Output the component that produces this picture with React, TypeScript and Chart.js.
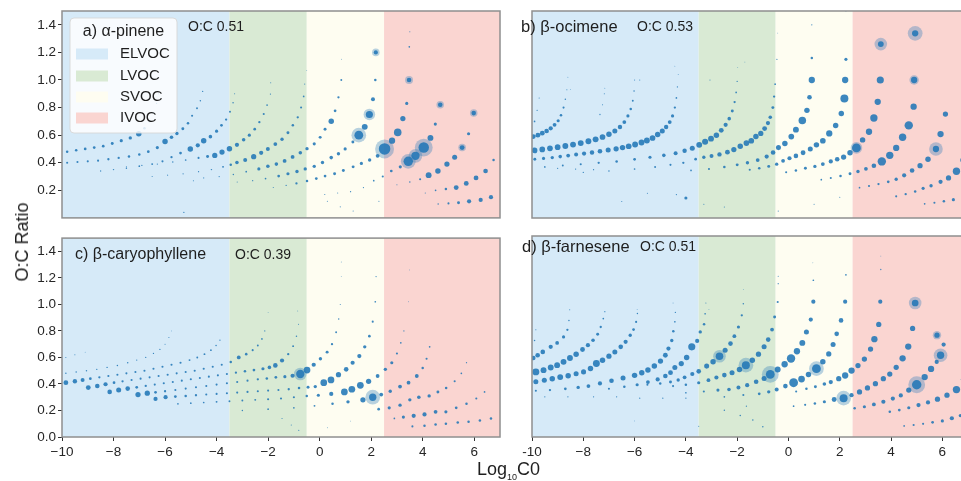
import React, { useEffect, useRef } from "react";
import { Chart, registerables } from "chart.js";
Chart.register(...registerables);

type Pt = [number, number, number]; // [log10 C0, O:C, relative abundance]

const FONT = "'Liberation Sans', Arial, Helvetica, sans-serif";

const volatilityClasses = ["ELVOC", "LVOC", "SVOC", "IVOC"];
const classEdges = [-10, -3.5, -0.5, 2.5, 7];
const classColors = ["rgb(214,234,248)", "rgb(217,234,212)", "rgb(254,253,241)", "rgb(250,213,209)"];
const xTickValues = [-10, -8, -6, -4, -2, 0, 2, 4, 6];
const yTickValues = [0, 0.2, 0.4, 0.6, 0.8, 1.0, 1.2, 1.4];
const panelNames = ["a) α-pinene", "b) β-ocimene", "c) β-caryophyllene", "d) β-farnesene"];
const panelOC = ["O:C 0.51", "O:C 0.53", "O:C 0.39", "O:C 0.51"];

const pineneDots: Pt[] = [
  [-9.8,0.48,1.2],[-9.45,0.49,1.2],[-9.1,0.5,1.3],[-8.75,0.51,1.3],[-8.4,0.52,1.3],[-8.05,0.54,1.4],[-7.7,0.56,1.5],[-7.35,0.58,1.6],[-7.02,0.61,2.6],[-6.8,0.65,1.2],[-6.6,0.7,1],[-6.45,0.76,0.8],[-6.33,0.83,0.6],[-6.25,0.9,0.5],
  [-9.8,0.4,1],[-9.4,0.405,1],[-9.0,0.41,1],[-8.6,0.415,1],[-8.2,0.425,1.1],[-7.8,0.435,1.1],[-7.4,0.445,1.2],[-7.0,0.46,1.2],[-6.65,0.48,1.3],[-6.3,0.51,1.5],[-6.0,0.554,2.6],[-5.75,0.585,1.7],[-5.54,0.612,1.6],[-5.31,0.647,1.4],[-5.11,0.687,1.2],[-4.95,0.741,1],[-4.76,0.795,0.9],[-4.63,0.85,0.7],[-4.54,0.917,0.6],
  [-8.5,0.34,0.6],[-8.0,0.35,0.7],[-7.5,0.36,0.7],[-7.0,0.375,0.8],[-6.5,0.39,0.9],[-6.1,0.41,1],[-5.75,0.44,1.1],[-5.4,0.47,1.3],[-5.02,0.5,2.6],[-4.73,0.526,2],[-4.5,0.559,2.6],[-4.24,0.589,1.7],[-4.0,0.629,1.5],[-3.81,0.671,1.3],[-3.63,0.713,1.1],[-3.48,0.77,0.9],[-3.36,0.835,0.7],[-3.3,0.9,0.5],
  [-7.5,0.37,0.5],[-6.9,0.38,0.6],[-6.3,0.39,0.6],[-5.7,0.405,0.7],[-5.2,0.42,0.8],[-4.7,0.435,1],[-4.35,0.445,1.4],[-4.07,0.453,2.5],[-3.79,0.477,2.5],[-3.5,0.502,2.6],[-3.21,0.53,2],[-2.95,0.566,1.7],[-2.73,0.6,1.5],[-2.52,0.643,1.3],[-2.34,0.694,1.1],[-2.17,0.753,1],[-2.04,0.818,0.8],[-1.91,0.898,0.6],
  [-6.5,0.3,0.5],[-5.9,0.31,0.5],[-5.3,0.32,0.6],[-4.7,0.335,0.6],[-4.2,0.35,0.7],[-3.75,0.37,0.9],[-3.45,0.385,1.2],[-3.21,0.402,1.7],[-2.89,0.42,1.9],[-2.56,0.444,2.5],[-2.27,0.472,2],[-2.01,0.5,1.9],[-1.72,0.535,1.8],[-1.46,0.57,1.6],[-1.23,0.617,1.4],[-1.04,0.671,1.2],[-0.85,0.729,1.1],[-0.72,0.8,1],[-0.62,0.881,0.8],[-0.58,0.97,0.5],
  [-4.5,0.29,0.5],[-3.9,0.3,0.6],[-3.35,0.315,0.7],[-2.85,0.335,0.8],[-2.36,0.355,1.5],[-2.01,0.374,1.7],[-1.68,0.39,1.7],[-1.36,0.413,1.8],[-1.05,0.442,1.8],[-0.75,0.472,1.7],[-0.49,0.502,1.6],[-0.21,0.537,1.5],[0.02,0.584,1.4],[0.21,0.643,1.4],[0.45,0.7,2.6],[0.6,0.776,1.3],[0.73,0.874,1.1],[0.84,1.0,0.9],
  [-3.2,0.26,0.5],[-2.6,0.27,0.6],[-2.1,0.285,0.8],[-1.59,0.303,1.3],[-1.23,0.32,1.5],[-0.88,0.336,1.6],[-0.56,0.355,1.6],[-0.21,0.374,1.6],[0.11,0.402,1.6],[0.45,0.437,1.7],[0.73,0.465,1.6],[0.99,0.5,1.5],[1.29,0.55,1.4],[1.52,0.6,4.2],[1.75,0.66,2.8],[1.93,0.75,3.4],[2.07,0.86,1.9],[2.16,1.0,1.2],[2.18,1.2,2],
  [-1.8,0.22,0.5],[-1.3,0.235,0.6],[-0.9,0.25,1.1],[-0.49,0.268,1.2],[-0.13,0.285,1.3],[0.21,0.303,1.3],[0.58,0.32,1.4],[0.92,0.343,1.4],[1.3,0.37,1.4],[1.62,0.395,1.5],[1.94,0.42,1.6],[2.25,0.45,1.8],[2.52,0.5,5.5],[2.81,0.56,3],[3.03,0.62,3.6],[3.23,0.72,2.5],[3.38,0.83,1.5],[3.47,1.0,2.2],[3.48,1.24,0.8],
  [0.2,0.17,0.5],[0.7,0.18,0.5],[1.2,0.19,0.6],[1.7,0.22,0.6],[2.1,0.27,0.8],[2.45,0.3,1],[2.78,0.34,1.3],[3.13,0.37,1.5],[3.44,0.41,4.5],[3.72,0.45,4],[4.04,0.51,5],[4.3,0.58,2.8],[4.49,0.68,1.5],[4.68,0.82,2.2],
  [3.0,0.24,0.5],[3.5,0.26,0.7],[3.9,0.28,1],[4.23,0.31,2.8],[4.59,0.34,2.6],[4.94,0.39,2.5],[5.24,0.44,2.4],[5.53,0.51,2.3],[5.78,0.61,1.5],[5.98,0.76,2.2],
  [4.1,0.18,0.5],[4.5,0.2,0.8],[4.9,0.21,1.2],[5.3,0.22,2.3],[5.69,0.25,2.3],[6.07,0.29,2.3],[6.44,0.34,2.2],[6.75,0.42,1.2],
  [4.6,0.1,0.7],[5.0,0.105,1],[5.39,0.11,1.4],[5.8,0.12,2],[6.25,0.13,2],[6.65,0.15,2],
  [-5.27,0.04,0.6],[-4.9,0.27,0.5],[0.3,0.12,0.5],[0.8,0.08,0.5],[1.3,0.05,0.5],[2.3,0.12,0.5],[3.5,1.35,0.5],[-1.9,0.98,0.5],[-0.5,1.07,0.4],[0.85,1.15,0.4],
];
const pineneHalos: Pt[] = [
  [1.52,0.6,7],[1.93,0.75,5.5],[2.18,1.2,3.6],[2.52,0.5,9],[3.47,1.0,3.8],[3.44,0.41,7],[3.72,0.45,6.5],[4.04,0.51,8.5],[4.68,0.82,3.6],[5.53,0.51,3.6],[5.98,0.76,3.6],
];

const ocimeneDots: Pt[] = [
  [-9.9,0.7,0.8],[-9.8,0.78,0.6],[-9.72,0.87,0.5],
  [-9.95,0.59,2.3],[-9.77,0.6,2.3],[-9.6,0.615,2.3],[-9.43,0.63,2.2],[-9.27,0.65,2],[-9.12,0.675,1.8],[-8.98,0.705,1.5],[-8.87,0.745,1.2],[-8.77,0.8,1],[-8.7,0.86,0.7],[-8.64,0.93,0.5],[-8.6,1.02,0.4],
  [-9.9,0.49,2.7],[-9.6,0.497,2.7],[-9.3,0.505,2.7],[-9.0,0.513,2.7],[-8.7,0.522,2.8],[-8.4,0.532,2.8],[-8.1,0.543,2.8],[-7.8,0.556,2.8],[-7.52,0.57,2.8],[-7.25,0.587,2.7],[-7.0,0.607,2.6],[-6.77,0.63,2.4],[-6.57,0.66,2.1],[-6.4,0.695,1.8],[-6.26,0.74,1.5],[-6.15,0.79,1.2],[-6.07,0.85,0.9],[-6.02,0.92,0.7],[-6.0,1.0,0.5],
  [-7.35,0.75,0.6],[-7.25,0.82,0.5],[-7.18,0.9,0.5],
  [-9.89,0.426,1.4],[-9.55,0.432,1.5],[-9.21,0.438,1.6],[-8.9,0.445,1.7],[-8.59,0.452,1.8],[-8.28,0.46,1.9],[-7.97,0.467,2],[-7.66,0.475,2.1],[-7.35,0.484,2.2],[-7.03,0.492,2.4],[-6.72,0.501,2.5],[-6.47,0.51,2.6],[-6.23,0.52,2.7],[-5.98,0.533,2.8],[-5.73,0.547,2.8],[-5.52,0.562,2.8],[-5.3,0.58,2.7],[-5.1,0.605,2.6],[-4.92,0.63,2.4],[-4.77,0.66,2.1],[-4.63,0.695,1.8],[-4.52,0.74,1.5],[-4.43,0.8,1.1],[-4.37,0.87,0.8],[-4.33,0.95,0.6],[-4.3,1.04,0.4],
  [-9.5,0.37,0.8],[-8.8,0.38,0.9],[-8.1,0.39,1],[-7.4,0.4,1.1],[-6.7,0.41,1.2],[-6.0,0.425,1.3],[-5.4,0.44,1.5],[-4.86,0.454,1.7],[-4.4,0.47,1.9],[-4.05,0.487,2.1],[-3.75,0.505,2.4],[-3.48,0.53,2.8],[-3.25,0.553,2.9],[-3.02,0.575,2.8],[-2.81,0.6,2.6],[-2.62,0.635,2.3],[-2.45,0.675,2],[-2.31,0.72,1.7],[-2.19,0.775,1.4],[-2.1,0.84,1.1],[-2.04,0.91,0.8],[-2.0,0.99,0.6],[-1.98,1.09,0.4],
  [-8.0,0.33,0.6],[-7.0,0.34,0.7],[-6.0,0.355,0.8],[-5.2,0.37,0.9],[-4.6,0.385,1],[-4.1,0.4,1.1],[-3.62,0.426,1.3],[-3.3,0.44,1.6],[-3.0,0.449,1.9],[-2.69,0.461,2.1],[-2.38,0.477,2.3],[-2.13,0.496,2.5],[-1.88,0.52,2.6],[-1.64,0.543,2.7],[-1.45,0.56,2.7],[-1.27,0.59,2.6],[-1.08,0.613,2.5],[-0.93,0.648,2.3],[-0.8,0.688,2],[-0.71,0.73,1.7],[-0.61,0.8,1.4],[-0.56,0.88,1.1],[-0.52,0.97,0.8],[-0.45,1.15,0.6],[-0.42,1.34,0.4],
  [-3.8,0.345,0.8],[-3.1,0.355,1],[-2.5,0.37,1.2],[-2.0,0.385,1.4],[-1.6,0.4,1.6],[-1.2,0.42,1.8],[-0.85,0.445,2],[-0.6,0.475,2.2],[-0.39,0.51,2.4],[-0.14,0.54,2.6],[0.11,0.59,2.7],[0.29,0.64,2.8],[0.54,0.707,3.6],[0.72,0.78,2.6],[0.82,0.875,2.2],[0.91,1.0,3],[0.91,1.16,1.2],[0.91,1.4,0.6],
  [-1.51,0.35,1],[-1.14,0.36,1.2],[-0.77,0.374,1.4],[-0.46,0.39,1.6],[-0.21,0.414,1.8],[0.04,0.433,2],[0.29,0.45,2.2],[0.57,0.473,2.3],[0.85,0.5,2.4],[1.09,0.53,2.6],[1.34,0.56,2.7],[1.59,0.613,3],[1.84,0.67,2.6],[2.06,0.758,2.6],[2.18,0.866,3.8],[2.21,1.0,3],[2.24,1.15,1.5],[2.24,1.5,0.5],
  [-0.09,0.332,1],[0.29,0.344,1.2],[0.66,0.36,1.4],[1.03,0.374,1.6],[1.34,0.391,1.8],[1.65,0.41,2],[1.9,0.426,2.2],[2.15,0.442,2.5],[2.4,0.473,2.6],[2.65,0.508,4.2],[2.89,0.566,2.6],[3.14,0.625,3],[3.33,0.725,3.5],[3.48,0.842,3],[3.58,1.0,3.4],[3.6,1.26,2.8],
  [1.28,0.278,0.8],[1.65,0.29,1],[2.03,0.304,1.2],[2.4,0.32,1.4],[2.71,0.337,1.6],[3.02,0.356,1.8],[3.33,0.379,2.2],[3.64,0.41,4],[3.95,0.454,3.5],[4.2,0.508,3],[4.45,0.585,3.5],[4.69,0.671,4],[4.88,0.807,3],[4.9,1.0,3],[4.94,1.338,3],
  [2.77,0.22,0.8],[3.14,0.232,1],[3.51,0.246,1.1],[3.89,0.262,1.3],[4.2,0.281,1.6],[4.51,0.309,2],[4.82,0.344,2.2],[5.13,0.379,2.5],[5.44,0.426,2.6],[5.75,0.5,3],[5.93,0.608,3],[6.12,0.753,2.5],
  [4.2,0.157,1],[4.57,0.173,1.1],[4.94,0.192,1.2],[5.25,0.215,1.5],[5.56,0.234,1.6],[5.93,0.262,2],[6.24,0.29,2.5],[6.55,0.339,3.5],[6.8,0.42,2.5],
  [5.31,0.103,0.8],[5.69,0.11,1],[6.06,0.122,1.2],[6.43,0.133,1.5],[6.8,0.15,1.5],
  [-4.0,0.145,1.5],[-4.37,0.17,0.6],[-6.5,0.12,0.5],[-5.5,0.18,0.5],[-3.3,0.1,0.5],[-2.5,0.08,0.5],[-0.4,0.05,0.5],[1.0,0.1,0.5],[2.0,0.15,0.5],[-9.0,0.36,0.6],[-8.3,0.355,0.6],[-7.6,0.35,0.6],[-5.8,1.0,0.5],[-4.43,1.1,0.4],[-3.06,1.0,0.5],[-1.7,1.13,0.4],[-8.5,0.93,0.4],[-7.16,0.94,0.4],
];
const ocimeneHalos: Pt[] = [[3.6,1.26,6],[4.94,1.338,7],[5.75,0.5,6.5],[2.65,0.508,5.5],[4.9,1.0,4.5]];

const caryophylleneDots: Pt[] = [
  [-9.85,0.6,0.5],[-9.5,0.62,0.5],[-9.1,0.64,0.4],
  [-9.85,0.48,0.7],[-9.45,0.49,0.7],[-9.05,0.5,0.7],[-8.65,0.51,0.7],[-8.25,0.525,0.7],[-7.85,0.54,0.7],[-7.45,0.56,0.7],[-7.1,0.58,0.6],[-6.75,0.6,0.6],[-6.45,0.63,0.6],[-6.2,0.66,0.6],[-6.0,0.7,0.5],[-5.85,0.75,0.5],[-5.75,0.8,0.4],
  [-9.85,0.41,2.3],[-9.5,0.42,2.1],[-9.2,0.43,1.9],[-8.9,0.44,1.3],[-8.55,0.45,1.1],[-8.2,0.46,1],[-7.85,0.47,1],[-7.5,0.48,1],[-7.15,0.49,1],[-6.8,0.5,1],[-6.45,0.515,1],[-6.1,0.53,1],[-5.75,0.545,1],[-5.4,0.56,1],[-5.05,0.58,0.9],[-4.75,0.6,0.9],[-4.47,0.625,0.9],[-4.22,0.655,0.8],[-4.02,0.69,0.7],[-3.87,0.73,0.6],
  [-8.98,0.373,2.3],[-8.63,0.385,2.2],[-8.31,0.398,2],[-7.98,0.41,1.3],[-7.65,0.42,1.1],[-7.3,0.43,1],[-6.95,0.44,1],[-6.6,0.45,1],[-6.25,0.46,1],[-5.9,0.47,1],[-5.55,0.48,1],[-5.2,0.49,1],[-4.85,0.5,1],[-4.5,0.515,1],[-4.15,0.53,1],[-3.8,0.545,1],[-3.45,0.565,1.2],[-3.14,0.6,1.8],[-2.85,0.625,1.2],[-2.6,0.655,1],[-2.4,0.69,0.9],[-2.24,0.74,0.8],[-2.13,0.8,0.6],
  [-8.15,0.34,2.2],[-7.8,0.355,2.4],[-7.45,0.365,2.2],[-7.1,0.375,1.3],[-6.75,0.385,1.1],[-6.4,0.395,1],[-6.05,0.405,1],[-5.7,0.415,1],[-5.35,0.425,1],[-5.0,0.435,1],[-4.65,0.445,1],[-4.3,0.455,1],[-3.95,0.465,1],[-3.6,0.475,1],[-3.25,0.485,1.1],[-2.9,0.495,1.2],[-2.55,0.505,1.3],[-2.2,0.515,1.5],[-1.95,0.525,1.7],[-1.72,0.54,2.2],[-1.46,0.577,2],[-1.22,0.625,1.1],[-1.03,0.685,0.9],[-0.9,0.76,0.7],[-0.82,0.85,0.5],
  [-7.05,0.32,2.5],[-6.69,0.33,2.5],[-6.37,0.337,1.3],[-6.0,0.345,1.1],[-5.6,0.355,1],[-5.2,0.365,1],[-4.8,0.375,1],[-4.4,0.385,1],[-4.0,0.395,1],[-3.6,0.405,1],[-3.2,0.415,1],[-2.8,0.425,1],[-2.4,0.435,1.1],[-2.05,0.442,1.2],[-1.7,0.45,1.3],[-1.35,0.455,1.5],[-1.05,0.462,2],[-0.75,0.475,4],[-0.49,0.505,3.2],[-0.23,0.545,2],[0.03,0.59,1.6],[0.29,0.64,1.4],[0.48,0.7,1.1],[0.64,0.79,0.9],[0.74,0.89,0.7],[0.8,1.0,0.5],[0.84,1.21,0.4],
  [-6.37,0.287,2],[-5.98,0.3,2],[-5.6,0.305,1.3],[-5.2,0.31,1.2],[-4.8,0.315,1.1],[-4.4,0.32,1],[-4.0,0.325,1],[-3.6,0.33,1],[-3.2,0.335,1],[-2.8,0.34,1],[-2.4,0.345,1],[-2.0,0.35,1],[-1.6,0.355,1],[-1.2,0.36,1.1],[-0.8,0.37,1.2],[-0.45,0.375,1.4],[-0.17,0.38,1.6],[0.16,0.41,3.2],[0.44,0.43,3.2],[0.73,0.47,2.5],[1.03,0.51,2.2],[1.28,0.56,2],[1.54,0.61,2],[1.75,0.68,1.6],[1.93,0.76,1.3],[2.06,0.87,1],[2.16,1.02,0.8],[2.19,1.21,0.6],
  [-5.5,0.25,0.8],[-5.0,0.255,0.8],[-4.5,0.26,0.8],[-4.0,0.265,0.9],[-3.5,0.27,0.9],[-3.0,0.275,0.9],[-2.5,0.28,0.9],[-2.0,0.285,1],[-1.5,0.29,1],[-1.0,0.3,1],[-0.5,0.31,1.2],[-0.05,0.315,1.5],[0.45,0.325,2],[0.96,0.34,3.2],[1.25,0.36,3.2],[1.58,0.39,3.2],[1.9,0.42,2.5],[2.25,0.46,1.8],[2.55,0.51,1.6],[2.8,0.56,1.5],[3.0,0.63,1],[3.15,0.71,0.8],[3.27,0.8,0.6],
  [-3.0,0.2,0.7],[-2.0,0.21,0.8],[-1.0,0.22,0.8],[-0.2,0.235,0.9],[0.5,0.25,1.2],[1.1,0.265,1.6],[1.68,0.28,2.5],[2.06,0.3,3.5],[2.39,0.32,1.8],[2.74,0.345,1.6],[3.12,0.38,1.8],[3.45,0.41,1.8],[3.77,0.46,1.8],[4.0,0.52,1.2],[4.15,0.59,1],[4.27,0.68,0.8],
  [2.29,0.21,1.3],[2.7,0.22,1.5],[3.12,0.24,1.6],[3.5,0.28,1.6],[3.85,0.3,1.7],[4.25,0.31,1.6],[4.59,0.34,1.4],[4.91,0.37,1.2],[5.24,0.42,1],[5.5,0.48,0.8],[5.7,0.56,0.6],
  [2.9,0.14,0.8],[3.25,0.15,1.5],[3.65,0.16,2],[4.07,0.17,2],[4.5,0.19,1.8],[4.9,0.19,1.5],[5.3,0.22,1.3],[5.7,0.25,1.2],[6.08,0.29,1],[6.4,0.34,0.8],
  [3.6,0.08,1],[4.07,0.085,1.2],[4.5,0.095,1.2],[4.9,0.1,1.2],[5.36,0.11,1.2],[5.78,0.115,1.2],[6.22,0.125,1.2],[6.65,0.14,1.2],
  [-1.46,0.14,0.5],[-1.1,0.09,0.5],[-0.81,0.05,0.5],[0.3,0.07,0.4],[1.2,0.12,0.4],[3.49,1.26,0.4],[3.45,1.02,0.4],[0.84,1.32,0.4],[-2.0,0.94,0.4],[-0.85,0.95,0.4],
];
const caryophylleneHalos: Pt[] = [[-0.75,0.475,6],[2.06,0.3,7]];

const farneseneDots: Pt[] = [
  [-9.9,0.72,0.7],[-9.85,0.8,0.5],
  [-9.95,0.59,2.2],[-9.78,0.61,2.2],[-9.58,0.635,2.2],[-9.27,0.673,2],[-9.02,0.702,1.8],[-8.77,0.747,1.5],[-8.62,0.8,1.1],[-8.56,0.87,0.7],[-8.53,0.95,0.5],
  [-9.85,0.486,3.3],[-9.55,0.499,2.8],[-9.27,0.519,2.8],[-9.02,0.536,2.8],[-8.77,0.561,2.8],[-8.52,0.59,2.8],[-8.28,0.618,2.6],[-8.03,0.653,2.3],[-7.82,0.685,2],[-7.62,0.722,1.7],[-7.44,0.767,1.4],[-7.32,0.821,1.1],[-7.22,0.884,0.8],[-7.16,0.935,0.6],
  [-9.85,0.412,2.4],[-9.52,0.424,2.4],[-9.21,0.434,2.6],[-8.9,0.447,2.8],[-8.59,0.457,2.6],[-8.28,0.472,2.4],[-7.99,0.486,2.4],[-7.72,0.511,2.6],[-7.49,0.548,3.3],[-7.25,0.573,2.6],[-7.0,0.603,2.5],[-6.77,0.635,2.4],[-6.54,0.673,2.2],[-6.35,0.71,2],[-6.17,0.759,1.6],[-6.04,0.802,1.3],[-5.94,0.859,1],[-5.89,0.921,0.7],
  [-9.85,0.345,1],[-9.3,0.35,1.1],[-8.7,0.36,1.3],[-8.2,0.37,1.6],[-7.8,0.38,1.8],[-7.35,0.4,2],[-6.9,0.42,2.2],[-6.45,0.44,2.4],[-6.0,0.46,2.6],[-5.72,0.48,2.6],[-5.48,0.5,2.6],[-5.23,0.53,2.6],[-4.99,0.567,2.5],[-4.8,0.61,2.3],[-4.68,0.66,2],[-4.55,0.72,1.6],[-4.49,0.79,1.2],[-4.43,0.86,0.8],[-4.41,0.93,0.6],
  [-7.0,0.36,1],[-6.4,0.375,1.2],[-5.9,0.39,1.5],[-5.48,0.41,1.8],[-5.1,0.43,2],[-4.8,0.455,2.2],[-4.6,0.48,2.3],[-4.43,0.519,2.4],[-4.18,0.548,2.5],[-3.97,0.593,2.6],[-3.77,0.673,3.4],[-3.56,0.717,2],[-3.44,0.784,1.6],[-3.29,0.841,1.2],[-3.25,0.92,0.8],[-3.22,1.0,0.5],
  [-5.5,0.39,1],[-5.0,0.4,1.2],[-4.6,0.41,1.4],[-4.3,0.425,1.6],[-4.05,0.445,1.8],[-3.75,0.47,2],[-3.5,0.49,2.2],[-3.19,0.529,2.4],[-2.94,0.561,2.6],[-2.69,0.603,3.6],[-2.47,0.648,2.4],[-2.26,0.697,2.2],[-2.11,0.752,1.8],[-1.95,0.821,1.5],[-1.82,0.908,1.1],[-1.76,0.995,0.7],
  [-4.5,0.38,1],[-4.0,0.39,1.2],[-3.5,0.405,1.5],[-3.12,0.424,1.8],[-2.81,0.444,2],[-2.5,0.462,2.2],[-2.2,0.479,2.4],[-1.91,0.504,2.6],[-1.66,0.536,3.8],[-1.41,0.573,2.6],[-1.17,0.618,2.5],[-0.95,0.673,2.4],[-0.79,0.727,2.2],[-0.64,0.802,1.8],[-0.54,0.896,1.4],[-0.42,1.008,1],[-0.4,1.144,0.6],
  [-4.0,0.33,0.8],[-3.3,0.34,1],[-2.75,0.35,1.5],[-2.32,0.355,1.7],[-1.95,0.37,1.9],[-1.61,0.387,2],[-1.26,0.412,2.2],[-0.95,0.437,2.4],[-0.71,0.467,4.2],[-0.42,0.504,2.8],[-0.15,0.543,3],[0.1,0.586,4],[0.33,0.64,3],[0.54,0.702,2.8],[0.7,0.784,2.4],[0.87,0.876,2],[0.97,1.01,2],[0.97,1.17,0.8],
  [-2.5,0.3,0.8],[-1.76,0.313,1],[-1.14,0.322,1.3],[-0.77,0.337,1.6],[-0.46,0.355,1.9],[-0.12,0.38,2.2],[0.2,0.405,4.2],[0.51,0.432,3.2],[0.78,0.467,2.6],[1.09,0.51,4.2],[1.34,0.562,2.6],[1.57,0.62,2.5],[1.74,0.69,2.4],[1.88,0.77,2.2],[2.05,0.87,2.2],[2.21,1.01,2],[2.24,1.21,0.8],
  [0.3,0.34,1],[0.7,0.36,1.2],[1.05,0.375,1.4],[1.4,0.395,1.7],[1.65,0.41,2],[1.96,0.435,2.5],[2.21,0.459,3],[2.46,0.496,3],[2.71,0.533,2.5],[2.96,0.582,2.5],[3.2,0.656,2.5],[3.35,0.73,3],[3.52,0.84,2.5],[3.58,1.01,2],[3.6,1.25,0.6],
  [0.2,0.23,0.8],[0.65,0.24,1],[1.03,0.25,1.2],[1.4,0.263,1.5],[1.78,0.28,2.3],[2.15,0.29,3.8],[2.46,0.312,2],[2.77,0.336,2.5],[3.08,0.366,2.5],[3.39,0.398,2.5],[3.7,0.435,2.5],[3.95,0.47,2.5],[4.2,0.52,2.5],[4.45,0.587,3],[4.67,0.675,3],[4.84,0.81,2.5],[4.94,1.0,3.2],
  [2.58,0.214,1.2],[2.96,0.226,1.5],[3.33,0.243,1.8],[3.7,0.263,2],[4.07,0.287,2],[4.38,0.31,2],[4.69,0.35,2.5],[5.0,0.39,4.5],[5.31,0.447,3],[5.56,0.508,3],[5.78,0.56,2],[5.93,0.61,3.5],[6.05,0.69,2],[5.79,0.76,2.5],
  [3.95,0.189,1.2],[4.32,0.201,1.3],[4.69,0.218,1.5],[5.07,0.238,2],[5.44,0.258,2],[5.81,0.282,2.5],[6.18,0.312,2.5],[6.55,0.354,3.5],[6.8,0.43,2],
  [4.51,0.083,0.8],[4.88,0.09,1],[5.25,0.098,1],[5.62,0.11,1.3],[6.0,0.12,1.5],[6.37,0.14,2],[6.7,0.16,1.5],
  [-9.5,0.3,0.6],[-8.6,0.3,0.6],[-7.6,0.3,0.6],[-6.7,0.3,0.6],[-5.8,0.29,0.6],[-4.9,0.29,0.6],[-4.0,0.29,0.6],
  [-2.5,0.2,0.7],[-1.88,0.16,0.7],[-1.64,0.23,0.6],[-1.39,0.127,0.7],[-1.0,0.077,0.7],[-6.0,0.12,0.4],[-3.5,0.08,0.5],[-5.9,0.95,0.4],[-4.5,1.0,0.4],[-3.1,0.95,0.4],[-1.76,1.1,0.4],[-0.4,1.2,0.5],[0.95,1.3,0.4],[3.6,1.35,0.4],
];
const farneseneHalos: Pt[] = [[-2.69,0.603,6],[-1.66,0.536,7],[-0.71,0.467,8],[1.09,0.51,7],[2.15,0.29,7],[5.0,0.39,8],[5.93,0.61,6.5],[4.94,1.0,6],[5.79,0.76,4]];

const BUBBLE_SCALE = 1.05;
const DOT_COLOR = "rgba(33,118,182,0.88)";
const HALO_COLOR = "rgba(33,118,182,0.32)";

interface PanelSpec {
  left: number; top: number; width: number; height: number;
  area: [number, number, number, number];
  showX: boolean; showY: boolean;
  dots: Pt[]; halos: Pt[];
  name: string; oc: string;
  namePos: [number, number]; nameSize: number; ocPos: [number, number];
  legend: boolean; hyphenFirst: boolean;
}

const panels: PanelSpec[] = [
  { left: 0, top: 0, width: 505, height: 228, area: [62, 11, 500, 223], showX: false, showY: true, dots: pineneDots, halos: pineneHalos, name: panelNames[0], oc: panelOC[0], namePos: [0, 0], nameSize: 16, ocPos: [188, 27], legend: true, hyphenFirst: false },
  { left: 490, top: 0, width: 485, height: 228, area: [511, 11, 968, 223], showX: false, showY: false, dots: ocimeneDots, halos: ocimeneHalos, name: panelNames[1], oc: panelOC[1], namePos: [521, 27], nameSize: 16.5, ocPos: [637, 27], legend: false, hyphenFirst: false },
  { left: 0, top: 228, width: 505, height: 253, area: [62, 236, 500, 437], showX: true, showY: true, dots: caryophylleneDots, halos: caryophylleneHalos, name: panelNames[2], oc: panelOC[2], namePos: [75, 255], nameSize: 16, ocPos: [235, 255], legend: false, hyphenFirst: false },
  { left: 490, top: 228, width: 485, height: 253, area: [511, 236, 968, 437], showX: true, showY: false, dots: farneseneDots, halos: farneseneHalos, name: panelNames[3], oc: panelOC[3], namePos: [522, 247], nameSize: 16.5, ocPos: [640, 247], legend: false, hyphenFirst: true },
];

function Panel({ spec }: { spec: PanelSpec }) {
  const ref = useRef<HTMLCanvasElement>(null);
  useEffect(() => {
    const s = spec;
    const [aL, aT, aR, aB] = s.area;
    const yWidth = aL - s.left;
    const xHeight = s.top + s.height - aB;
    const toBubble = (p: Pt) => ({ x: p[0], y: p[1], r: p[2] * BUBBLE_SCALE });

    const bands = {
      id: "bands",
      beforeDatasetsDraw(chart: any) {
        const { ctx, chartArea: a, scales } = chart;
        ctx.save();
        ctx.beginPath();
        ctx.rect(a.left, a.top, a.right - a.left, a.bottom - a.top);
        ctx.clip();
        for (let i = 0; i < volatilityClasses.length; i++) {
          const x0 = scales.x.getPixelForValue(classEdges[i]);
          const x1 = scales.x.getPixelForValue(classEdges[i + 1]);
          ctx.fillStyle = classColors[i];
          ctx.fillRect(x0, a.top, x1 - x0, a.bottom - a.top);
        }
        ctx.restore();
      },
    };

    const frame = {
      id: "frame",
      afterDraw(chart: any) {
        const { ctx, chartArea: a } = chart;
        ctx.save();
        ctx.strokeStyle = "#8f8f8f";
        ctx.lineWidth = 1.5;
        ctx.strokeRect(a.left, a.top, a.right - a.left, a.bottom - a.top);
        ctx.fillStyle = "#1e1e1e";
        ctx.textBaseline = "middle";
        ctx.textAlign = "left";
        if (!s.legend) {
          ctx.font = `${s.nameSize}px ${FONT}`;
          ctx.fillText(s.name, s.namePos[0] - s.left, s.namePos[1] - s.top);
        }
        ctx.font = `14px ${FONT}`;
        ctx.fillText(s.oc, s.ocPos[0] - s.left, s.ocPos[1] - s.top);
        if (s.legend) {
          const bx = 70 - s.left, by = 18 - s.top, bw = 107, bh = 115;
          ctx.beginPath();
          (ctx as any).roundRect(bx, by, bw, bh, 4);
          ctx.fillStyle = "rgba(255,255,255,0.82)";
          ctx.fill();
          ctx.strokeStyle = "rgba(215,215,215,0.9)";
          ctx.lineWidth = 1;
          ctx.stroke();
          ctx.fillStyle = "#1e1e1e";
          ctx.font = `16px ${FONT}`;
          ctx.textAlign = "center";
          ctx.fillText(s.name, bx + bw / 2, by + 14);
          ctx.textAlign = "left";
          ctx.font = `15px ${FONT}`;
          const rows = [54, 76, 97, 118];
          for (let i = 0; i < volatilityClasses.length; i++) {
            const cy = rows[i] - s.top;
            ctx.fillStyle = classColors[i];
            ctx.fillRect(76 - s.left, cy - 5.5, 32, 11);
            ctx.fillStyle = "#1e1e1e";
            ctx.fillText(volatilityClasses[i], 120 - s.left, cy);
          }
        }
        ctx.restore();
      },
    };

    const tickFont = { family: FONT, size: 13.5 };
    const gridCfg = { display: true, drawOnChartArea: false, drawTicks: true, tickLength: 4, tickColor: "#333", tickWidth: 1 };

    const chart = new Chart(ref.current as HTMLCanvasElement, {
      type: "bubble",
      data: {
        datasets: [
          { data: s.halos.map(toBubble), backgroundColor: HALO_COLOR, borderWidth: 0, clip: 0 } as any,
          { data: s.dots.map(toBubble), backgroundColor: DOT_COLOR, borderWidth: 0, clip: 0 } as any,
        ],
      },
      options: {
        animation: false,
        responsive: false,
        maintainAspectRatio: false,
        devicePixelRatio: 1,
        events: [],
        layout: {
          autoPadding: false,
          padding: {
            left: s.showY ? 0 : aL - s.left,
            top: aT - s.top,
            right: s.left + s.width - aR,
            bottom: s.showX ? 0 : s.top + s.height - aB,
          },
        },
        plugins: { legend: { display: false }, tooltip: { enabled: false } },
        scales: {
          x: {
            type: "linear", min: -10, max: 7, display: s.showX,
            grid: gridCfg, border: { display: false },
            afterBuildTicks: (sc: any) => { sc.ticks = xTickValues.map((v) => ({ value: v })); },
            afterFit: (sc: any) => { sc.height = xHeight; },
            ticks: {
              font: tickFont, color: "#262626", padding: 3, autoSkip: false, maxRotation: 0,
              callback: (v: any, i: number) => {
                const n = Number(v);
                if (n < 0) return (s.hyphenFirst && i === 0 ? "-" : "\u2212") + Math.abs(n);
                return String(n);
              },
            },
          },
          y: {
            type: "linear", min: 0, max: 1.5, display: s.showY,
            grid: gridCfg, border: { display: false },
            afterBuildTicks: (sc: any) => { sc.ticks = (s.showX ? yTickValues : yTickValues.slice(1)).map((v) => ({ value: v })); },
            afterFit: (sc: any) => { sc.width = yWidth; },
            ticks: { font: tickFont, color: "#262626", padding: 2, callback: (v: any) => Number(v).toFixed(1) },
          },
        },
      } as any,
      plugins: [bands, frame],
    });
    return () => chart.destroy();
  }, [spec]);
  return (
    <canvas
      ref={ref}
      width={spec.width}
      height={spec.height}
      style={{ position: "absolute", left: spec.left, top: spec.top, width: spec.width, height: spec.height }}
    />
  );
}

export default function App() {
  return (
    <div style={{ position: "fixed", left: 0, top: 0, width: 961, height: 481, overflow: "hidden", background: "#fff" }}>
      {panels.map((p, i) => <Panel key={i} spec={p} />)}
      <div style={{ position: "absolute", left: 477, top: 460, font: `18px ${FONT}`, lineHeight: "18px", color: "#1e1e1e", whiteSpace: "nowrap" }}>
        Log<span style={{ fontSize: 9, position: "relative", top: 5 }}>10</span>C0
      </div>
      <div style={{ position: "absolute", left: 22, top: 242, font: `18px ${FONT}`, lineHeight: "18px", color: "#1e1e1e", whiteSpace: "nowrap", transform: "translate(-50%, -50%) rotate(-90deg)" }}>
        O:C Ratio
      </div>
    </div>
  );
}
